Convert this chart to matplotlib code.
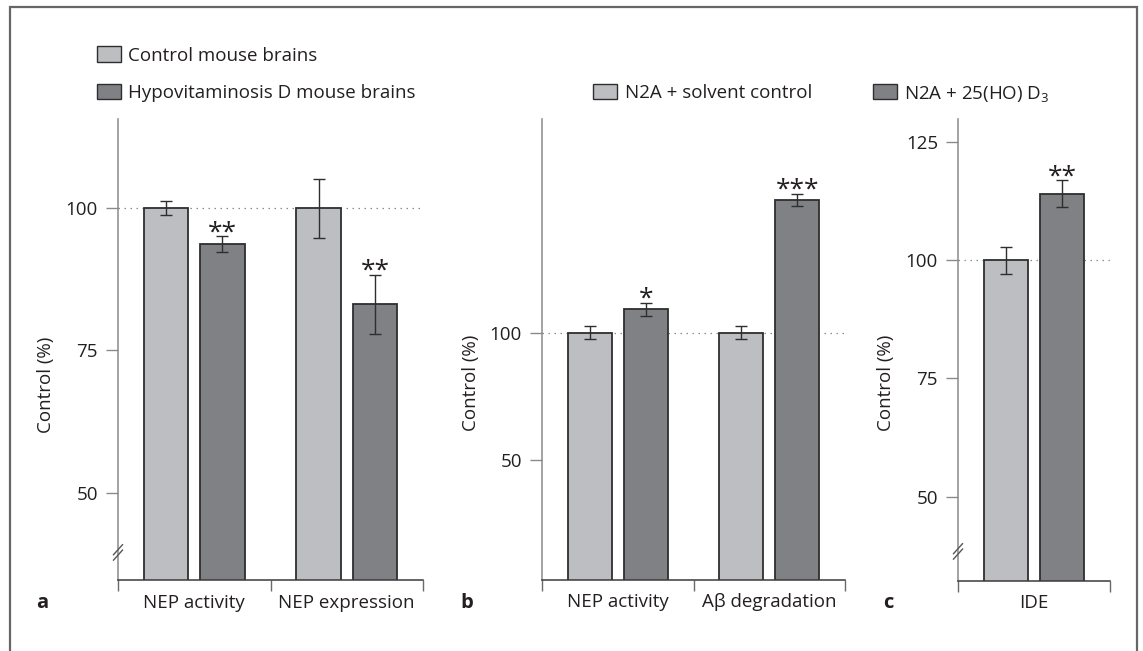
import matplotlib
matplotlib.use("Agg")
import matplotlib.pyplot as plt
from matplotlib.patches import Rectangle
from matplotlib.transforms import ScaledTranslation

plt.rcParams["font.family"] = ["Open Sans", "DejaVu Sans"]
plt.rcParams["mathtext.fontset"] = "custom"
plt.rcParams["mathtext.rm"] = "Open Sans"
plt.rcParams["mathtext.it"] = "Open Sans"

# ---- data -----------------------------------------------------------------
groups_a = ["NEP activity", "NEP expression"]
control_a = [100, 100]
control_a_err = [1.2, 5.2]
hypo_a = [93.7, 83.1]
hypo_a_err = [1.35, 5.2]
sig_a = ["**", "**"]

groups_b = ["NEP activity", "A\u03b2 degradation"]
solvent_b = [100, 100]
solvent_b_err = [2.6, 2.6]
d3_b = [109.2, 152.2]
d3_b_err = [2.5, 2.4]
sig_b = ["*", "***"]

groups_c = ["IDE"]
solvent_c = [100]
solvent_c_err = [2.9]
d3_c = [114.1]
d3_c_err = [2.85]
sig_c = ["**"]

yticks_a = [50, 75, 100]
yticks_b = [50, 100]
yticks_c = [50, 75, 100, 125]

legend_a = ["Control mouse brains", "Hypovitaminosis D mouse brains"]
legend_bc = ["N2A + solvent control", "N2A + 25(HO) D$_3$"]

# ---- style ----------------------------------------------------------------
LIGHT = "#bdbec2"
DARK = "#808185"
EDGE = "#2e2e2e"
TEXT = "#231f20"
AXIS_GRAY = "#8a8a8a"
FS = 13.5

W, H = 1143, 651
fig = plt.figure(figsize=(W / 100, H / 100), dpi=100)


def rect_px(x0, x1, ytop, ybot):
    return [x0 / W, 1 - ybot / H, (x1 - x0) / W, (ybot - ytop) / H]


def panel(rect, groups, lo, lo_err, hi, hi_err, sig, ylim, yticks, brk, letter, letter_x):
    ax = fig.add_axes(rect)
    n = len(groups)
    centers = [i + 0.5 for i in range(n)]
    off, width = 0.185, 0.293
    xl = [c - off for c in centers]
    xh = [c + off for c in centers]

    ax.axhline(100, color="#8c8c8c", lw=0.9, ls=(0, (1.2, 3.6)), zorder=0)
    ax.bar(xl, lo, width, color=LIGHT, edgecolor=EDGE, lw=1.3, zorder=2)
    ax.bar(xh, hi, width, color=DARK, edgecolor=EDGE, lw=1.3, zorder=2)
    ekw = dict(fmt="none", ecolor=EDGE, elinewidth=1.0, capsize=4.2, capthick=1.0, zorder=3)
    ax.errorbar(xl, lo, yerr=lo_err, **ekw)
    ax.errorbar(xh, hi, yerr=hi_err, **ekw)
    for x, v, e, s in zip(xh, hi, hi_err, sig):
        ax.annotate(s, xy=(x, v + e), xytext=(0, -2.2), textcoords="offset points",
                    ha="center", va="baseline", fontsize=19, color=TEXT, zorder=4)

    ax.set_xlim(0, n)
    ax.set_ylim(*ylim)
    ax.set_yticks(yticks)
    ax.set_xticks(range(n + 1))
    ax.set_xticklabels([])
    for side in ("top", "right"):
        ax.spines[side].set_visible(False)
    ax.spines["left"].set_color(AXIS_GRAY)
    ax.spines["left"].set_linewidth(1.1)
    ax.spines["bottom"].set_color("#3a3a3a")
    ax.spines["bottom"].set_linewidth(1.1)
    ax.tick_params(axis="y", length=8.6, width=1.0, color=AXIS_GRAY, pad=5.8,
                   labelsize=FS, labelcolor=TEXT)
    ax.tick_params(axis="x", length=7.9, width=1.0, color="#6a6a6a")

    # category names under each pair of bars
    lab_tr = ax.get_xaxis_transform() + ScaledTranslation(0, -0.272, fig.dpi_scale_trans)
    for c, g in zip(centers, groups):
        ax.text(c, 0, g, transform=lab_tr, ha="center", va="baseline",
                fontsize=FS, color=TEXT)

    ax.set_ylabel("Control (%)", fontsize=FS, color=TEXT, va="center")

    # axis break marks
    if brk is not None:
        tr = fig.dpi_scale_trans + ScaledTranslation(0, brk, ax.transData)
        for dy in (-0.027, 0.027):
            ax.plot([-0.045, 0.045], [dy - 0.05, dy + 0.05], transform=tr,
                    color="#555555", lw=1.0, clip_on=False, zorder=5)

    fig.text(letter_x / W, 1 - 607.5 / H, letter, fontsize=FS + 1, fontweight="bold",
             color=TEXT, ha="left", va="baseline")
    return ax


ax_a = panel(rect_px(118, 423, 119.4, 580.3), groups_a, control_a, control_a_err,
             hypo_a, hypo_a_err, sig_a, (34.6, 115.6), yticks_a, 39.5, "a", 36)
ax_a.yaxis.set_label_coords(-0.236, 0.424)

ax_b = panel(rect_px(542, 845, 118.8, 579.6), groups_b, solvent_b, solvent_b_err,
             d3_b, d3_b_err, sig_b, (3.0, 184.0), yticks_b, None, "b", 460)
ax_b.yaxis.set_label_coords(-0.234, 0.427)

ax_c = panel(rect_px(958, 1110, 119.0, 580.7), groups_c, solvent_c, solvent_c_err,
             d3_c, d3_c_err, sig_c, (32.2, 129.9), yticks_c, 38.4, "c", 883)
ax_c.yaxis.set_label_coords(-0.474, 0.428)

# ---- legends ----------------------------------------------------------------
def legend_item(x, yc, color, label):
    fig.add_artist(Rectangle((x / W, 1 - (yc + 7.5) / H), 24 / W, 15 / H,
                             transform=fig.transFigure, facecolor=color,
                             edgecolor=EDGE, lw=1.0))
    fig.text((x + 32) / W, 1 - yc / H, label, fontsize=FS, color=TEXT,
             ha="left", va="center_baseline")


legend_item(96.5, 54, LIGHT, legend_a[0])
legend_item(96.5, 91, DARK, legend_a[1])
legend_item(593, 91, LIGHT, legend_bc[0])
legend_item(872.5, 91, DARK, legend_bc[1])

# outer frame
fig.add_artist(Rectangle((10 / W, -0.05), (1137 - 10) / W, 1.05 - 7 / H,
                         transform=fig.transFigure, fill=False,
                         edgecolor="#666666", lw=1.6))

fig.savefig("out.png", dpi=100)
